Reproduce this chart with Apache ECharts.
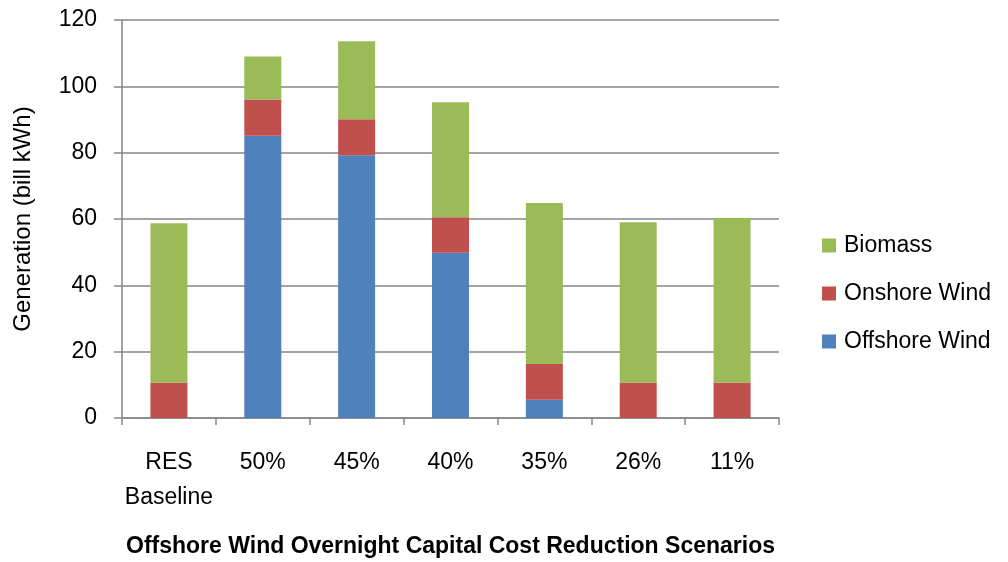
<!DOCTYPE html>
<html>
<head>
<meta charset="utf-8">
<script src="https://cdn.jsdelivr.net/npm/echarts@6/dist/echarts.min.js"></script>
<style>html,body{margin:0;padding:0;background:#fff}#c{width:1008px;height:562px}</style>
</head>
<body>
<div id="c"></div>
<script>
var categories = ['RES\nBaseline', '50%', '45%', '40%', '35%', '26%', '11%'];
var offshoreWind = [0, 85.1, 79.2, 49.8, 5.5, 0, 0];
var onshoreWind = [10.7, 10.9, 10.9, 10.7, 10.8, 10.7, 10.7];
var biomass = [48.0, 13.0, 23.5, 34.7, 48.5, 48.3, 49.6];
var yTicks = {min: 0, max: 120, interval: 20};

var FONT = '"Liberation Sans", Arial, sans-serif';
var chart = echarts.init(document.getElementById('c'));
chart.setOption({
  animation: false,
  textStyle: {fontFamily: FONT},
  grid: {left: 122, right: 229, top: 20, bottom: 144, containLabel: false, outerBoundsMode: 'none'},
  legend: {
    orient: 'vertical', left: 817, top: 229,
    data: ['Biomass', 'Onshore Wind', 'Offshore Wind'],
    itemWidth: 14, itemHeight: 14, itemGap: 25,
    icon: 'rect',
    textStyle: {fontSize: 23, color: '#000', fontFamily: FONT, lineHeight: 23, padding: [0,0,0,3]}
  },
  xAxis: {
    type: 'category', data: categories,
    name: 'Offshore Wind Overnight Capital Cost Reduction Scenarios',
    nameLocation: 'middle', nameGap: 117,
    nameTextStyle: {fontSize: 23, fontWeight: 'bold', color: '#000', fontFamily: FONT},
    axisLine: {lineStyle: {color: '#868686', width: 1.5}},
    axisTick: {show: true, length: 7, interval: 0, lineStyle: {color: '#868686', width: 1.5}},
    axisLabel: {fontSize: 23, color: '#000', margin: 27, lineHeight: 35, interval: 0, fontFamily: FONT}
  },
  yAxis: {
    type: 'value', min: yTicks.min, max: yTicks.max, interval: yTicks.interval,
    name: 'Generation (bill kWh)', nameLocation: 'middle', nameGap: 87,
    nameTextStyle: {fontSize: 24, color: '#000', fontFamily: FONT},
    axisLine: {show: true, lineStyle: {color: '#868686', width: 1.5}},
    axisTick: {show: true, inside: false, length: 8, lineStyle: {color: '#868686', width: 1.5}},
    axisLabel: {fontSize: 23, color: '#000', margin: 25, fontFamily: FONT},
    splitLine: {lineStyle: {color: '#868686', width: 1.5}}
  },
  series: [
    {name: 'Offshore Wind', type: 'bar', stack: 't', data: offshoreWind, barWidth: 37,
     itemStyle: {color: '#4F81BD'}},
    {name: 'Onshore Wind', type: 'bar', stack: 't', data: onshoreWind, barWidth: 37,
     itemStyle: {color: '#C0504D'}},
    {name: 'Biomass', type: 'bar', stack: 't', data: biomass, barWidth: 37,
     itemStyle: {color: '#9BBB59'}}
  ]
});
</script>
</body>
</html>
